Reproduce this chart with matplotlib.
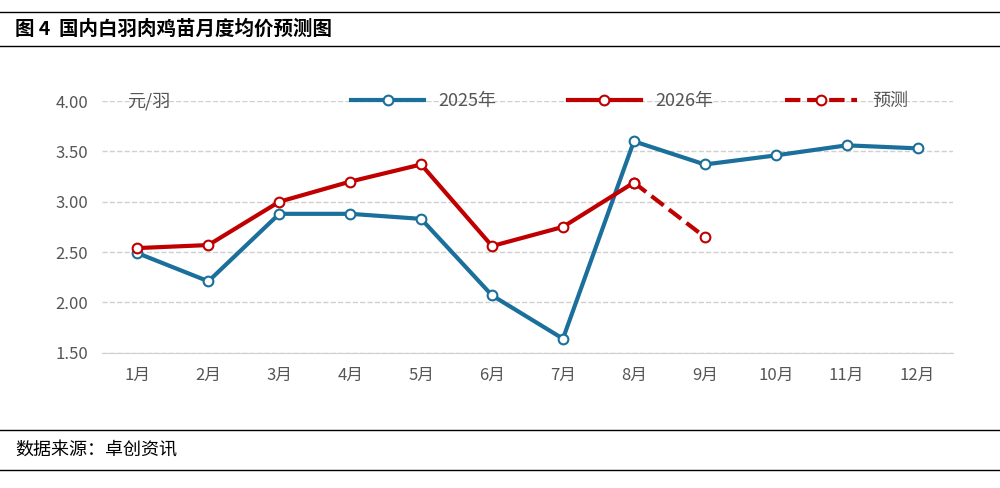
import matplotlib
matplotlib.use("Agg")
import matplotlib.pyplot as plt
from matplotlib.lines import Line2D

plt.rcParams['font.family'] = ['Noto Sans CJK SC', 'DejaVu Sans']

months = ['1月', '2月', '3月', '4月', '5月', '6月', '7月', '8月', '9月', '10月', '11月', '12月']
y2025 = [2.49, 2.21, 2.88, 2.88, 2.83, 2.07, 1.64, 3.60, 3.37, 3.46, 3.56, 3.53]
y2026 = [2.54, 2.57, 3.00, 3.20, 3.37, 2.56, 2.75, 3.19]
forecast_x = [8, 9]
forecast_y = [3.19, 2.65]

blue = '#1b6f9b'
red = '#c00000'

fig = plt.figure(figsize=(10, 4.88), dpi=100)
ax = fig.add_axes([0.102, 0.277, 0.851, 0.516])

x = list(range(1, 13))
ax.plot(x, y2025, color=blue, lw=3, marker='o', ms=7, mfc='white', mew=1.5)
ax.plot(forecast_x, forecast_y, color=red, lw=3, ls='--', marker='o', ms=7, mfc='white', mew=1.5)
ax.plot(x[:len(y2026)], y2026, color=red, lw=3, marker='o', ms=7, mfc='white', mew=1.5)

ax.set_xlim(0.5, 12.5)
ax.set_ylim(1.5, 4.0)
ax.set_yticks([1.5, 2.0, 2.5, 3.0, 3.5, 4.0])
ax.set_yticklabels(['1.50', '2.00', '2.50', '3.00', '3.50', '4.00'])
ax.set_xticks(x)
ax.set_xticklabels(months)
ax.yaxis.grid(True, ls='--', color='#d0d0d0', lw=1)
ax.set_axisbelow(True)
for s in ['top', 'right', 'left']:
    ax.spines[s].set_visible(False)
ax.spines['bottom'].set_color('#d0d0d0')
ax.tick_params(length=0, labelsize=12, colors='#555555', pad=10)
ax.text(0.03, 1.0, '元/羽', transform=ax.transAxes, fontsize=13, color='#555555', va='center')

handles = [
    Line2D([], [], color=blue, lw=3, marker='o', ms=7, mfc='white', mew=1.5),
    Line2D([], [], color=red, lw=3, marker='o', ms=7, mfc='white', mew=1.5),
    Line2D([], [], color=red, lw=3, ls='--', marker='o', ms=7, mfc='white', mew=1.5),
]
ax.legend(handles, ['2025年', '2026年', '预测'], loc='center', bbox_to_anchor=(0.62, 1.0),
          ncol=3, frameon=False, fontsize=13, handlelength=4, columnspacing=4,
          labelcolor='#555555')

fig.add_artist(Line2D([0.0, 1.0], [0.975, 0.975], color='black', lw=1))
fig.add_artist(Line2D([0.0, 1.0], [0.905, 0.905], color='black', lw=1))
fig.text(0.015, 0.94, '图 4  国内白羽肉鸡苗月度均价预测图', fontsize=14, fontweight='bold', va='center')
fig.add_artist(Line2D([0.0, 1.0], [0.118, 0.118], color='black', lw=1))
fig.add_artist(Line2D([0.0, 1.0], [0.037, 0.037], color='black', lw=1))
fig.text(0.015, 0.077, '数据来源：卓创资讯', fontsize=13, va='center')

fig.savefig('out.png', dpi=100, facecolor='white')
